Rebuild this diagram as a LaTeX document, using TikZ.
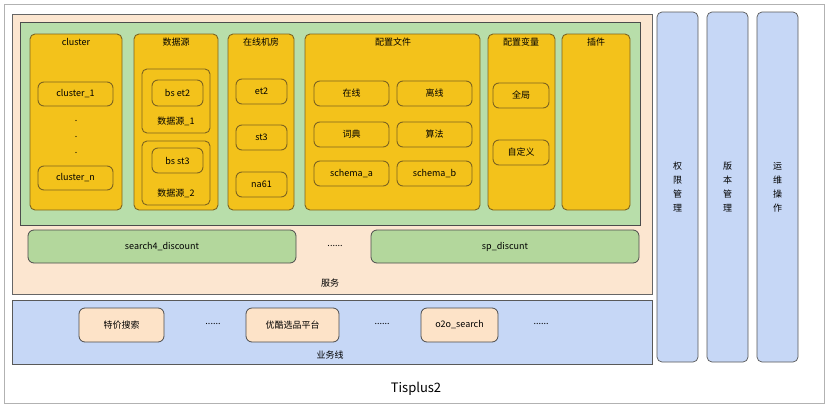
\documentclass[tikz,border=0pt]{standalone}
\usepackage{fontspec}
\setmainfont{Noto Sans CJK SC}
\begin{document}
\begin{tikzpicture}[x=1pt,y=-1pt,
  ybox/.style={draw=yborder,fill=ycol,rounded corners=5pt,line width=0.9pt},
  item/.style={draw=yborder,fill=ycol,rounded corners=6pt,line width=0.9pt,font=\fontsize{9}{10}\selectfont,inner sep=0pt},
  lbl/.style={font=\fontsize{9}{10}\selectfont,inner sep=0pt},
]
\definecolor{ycol}{HTML}{F3C21B}
\definecolor{yborder}{HTML}{7D6420}
\definecolor{peach}{HTML}{FCE6D0}
\definecolor{gbox}{HTML}{B8DEAA}
\definecolor{gnode}{HTML}{B3D79C}
\definecolor{bcol}{HTML}{C6D7F6}
\definecolor{pnode}{HTML}{FDE3C8}
\useasboundingbox (0,0) rectangle (829,407);
\fill[white] (0,0) rectangle (829,407);
\draw[draw=gray!60,line width=0.8pt] (4,4) rectangle (824,403);
\node[font=\fontsize{13}{15}\selectfont] (title) at (416,389) {Tisplus2};
% service
\draw[fill=peach,draw=gray!80!black,line width=0.7pt] (12,14) rectangle (652,294);
\draw[fill=gbox,draw=gray!60!black,line width=0.7pt] (20,22) rectangle (640,225);
\node[lbl] (svc) at (330,283) {服务};
% columns
\draw[ybox] (30,34) rectangle (122,210); \node[lbl] (c1t) at (76,42) {cluster};
\draw[ybox] (134,34) rectangle (218,210); \node[lbl] (c2t) at (176,42) {数据源};
\draw[ybox] (228,34) rectangle (294,210); \node[lbl] (c3t) at (261,42) {在线机房};
\draw[ybox] (305,34) rectangle (480,210); \node[lbl] (c4t) at (393,42) {配置文件};
\draw[ybox] (488,34) rectangle (555,210); \node[lbl] (c5t) at (521,42) {配置变量};
\draw[ybox] (562,34) rectangle (630,210); \node[lbl] (c6t) at (596,42) {插件};
% cluster
\node[item,minimum width=75pt,minimum height=24pt] (cl1) at (75.5,94) {cluster\_1};
\node[lbl] (d1) at (76,121) {.};
\node[lbl] (d2) at (76,137) {.};
\node[lbl] (d3) at (76,153) {.};
\node[item,minimum width=75pt,minimum height=24pt] (cln) at (75.5,178) {cluster\_n};
% data sources
\draw[ybox] (142,69) rectangle (210,133);
\node[item,minimum width=51pt,minimum height=26pt] (bse) at (177.5,93) {bs et2};
\node[lbl] (ds1) at (176,121) {数据源\_1};
\draw[ybox] (142,141) rectangle (210,205);
\node[item,minimum width=51pt,minimum height=25pt] (bss) at (177.5,160.5) {bs st3};
\node[lbl] (ds2) at (176,193) {数据源\_2};
% rooms
\node[item,minimum width=51pt,minimum height=25pt] (et2) at (261.5,91.5) {et2};
\node[item,minimum width=51pt,minimum height=25pt] (st3) at (261.5,137.5) {st3};
\node[item,minimum width=51pt,minimum height=25pt] (na61) at (261.5,184.5) {na61};
% config files
\node[item,minimum width=75pt,minimum height=25pt] (zx) at (351.5,93.5) {在线};
\node[item,minimum width=75pt,minimum height=25pt] (lx) at (434.5,93.5) {离线};
\node[item,minimum width=75pt,minimum height=25pt] (cd) at (351.5,134.5) {词典};
\node[item,minimum width=75pt,minimum height=25pt] (sf) at (434.5,134.5) {算法};
\node[item,minimum width=75pt,minimum height=25pt] (sa) at (351.5,173.5) {schema\_a};
\node[item,minimum width=75pt,minimum height=25pt] (sb) at (434.5,173.5) {schema\_b};
% config vars
\node[item,minimum width=56pt,minimum height=25pt] (qj) at (521,95.5) {全局};
\node[item,minimum width=56pt,minimum height=25pt] (zdy) at (521,152.5) {自定义};
% services
\node[draw=gray!60!black,fill=gnode,rounded corners=6pt,line width=0.8pt,minimum width=268pt,minimum height=33pt,lbl] (s4) at (162,246.5) {search4\_discount};
\node[lbl] (sd) at (335,246) {......};
\node[draw=gray!60!black,fill=gnode,rounded corners=6pt,line width=0.8pt,minimum width=268pt,minimum height=33pt,lbl] (sp) at (505,246.5) {sp\_discunt};
% business line
\draw[fill=bcol,draw=gray!70!black,line width=0.7pt] (12,300) rectangle (652,364);
\node[lbl] (ywx) at (330,355) {业务线};
\node[draw=gray!60!black,fill=pnode,rounded corners=6pt,line width=0.8pt,minimum width=85pt,minimum height=34pt,lbl] (tj) at (121.5,325) {特价搜索};
\node[lbl] (b1) at (213,324) {......};
\node[draw=gray!60!black,fill=pnode,rounded corners=6pt,line width=0.8pt,minimum width=93pt,minimum height=34pt,lbl] (yk) at (292.5,325) {优酷选品平台};
\node[lbl] (b2) at (382,324) {......};
\node[draw=gray!60!black,fill=pnode,rounded corners=6pt,line width=0.8pt,minimum width=77pt,minimum height=34pt,lbl] (o2o) at (459.5,325) {o2o\_search};
\node[lbl] (b3) at (541,324) {......};
% right columns
\foreach \x/\t [count=\i] in {677.5/{权\\限\\管\\理},727.5/{版\\本\\管\\理},777.5/{运\\维\\操\\作}}{
  \draw[fill=bcol,draw=gray!70!black,line width=0.7pt,rounded corners=5pt] (\x-20.5,12) rectangle (\x+20.5,362);
  \node[lbl,align=center,font=\fontsize{9}{14}\selectfont] (r\i) at (\x,187) {\t};
}
\end{tikzpicture}
\end{document}
